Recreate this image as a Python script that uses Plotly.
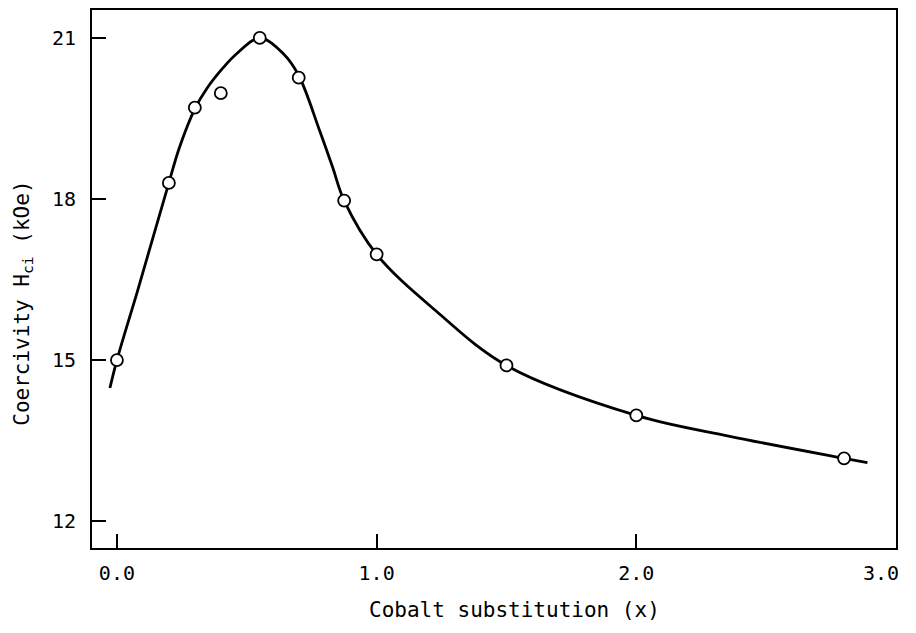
import plotly.graph_objects as go

# Measured data points (open circles)
x_points = [0.0, 0.2, 0.3, 0.4, 0.55, 0.7, 0.875, 1.0, 1.5, 2.0, 2.8]
y_points = [15.0, 18.3, 19.7, 19.97, 21.0, 20.26, 17.97, 16.97, 14.9, 13.97, 13.17]

# Smooth fitted curve
x_curve = [-0.027, 0.0, 0.08, 0.146, 0.2, 0.24, 0.3, 0.345, 0.41, 0.46, 0.55,
           0.64, 0.70, 0.78, 0.83, 0.875, 1.0, 1.23, 1.5, 2.0,
           2.36, 2.8, 2.89]
y_curve = [14.48, 15.0, 16.3, 17.4, 18.3, 18.95, 19.68, 20.05, 20.45, 20.7, 21.0,
           20.71, 20.3, 19.28, 18.6, 17.97, 16.97, 15.91, 14.9, 13.97,
           13.58, 13.17, 13.09]

x_ticks = [0.0, 1.0, 2.0, 3.0]
x_tick_labels = ["0.0", "1.0", "2.0", "3.0"]
y_ticks = [12, 15, 18, 21]
y_tick_labels = ["12", "15", "18", "21"]

x_title = "Cobalt substitution (x)"
y_title = "Coercivity H<sub>ci</sub> (kOe)"

FONT = "DejaVu Sans Mono"

fig = go.Figure()
fig.add_trace(go.Scatter(
    x=x_curve, y=y_curve, mode="lines",
    line=dict(color="black", width=2.8, shape="spline", smoothing=1.0),
    hoverinfo="skip", showlegend=False,
))
fig.add_trace(go.Scatter(
    x=x_points, y=y_points, mode="markers",
    marker=dict(symbol="circle", size=12, color="white",
                line=dict(color="black", width=1.8)),
    showlegend=False,
))

# the last tick label sits at the frame edge, drawn just left of its tick
edge_label = dict(text=x_tick_labels[-1], xref="x", yref="paper", x=x_ticks[-1], y=-0.0465,
                  xanchor="right", yanchor="middle", xshift=5, showarrow=False,
                  font=dict(family=FONT, size=20, color="black"))

# the page body has an 8px margin; the figure is sized so the plot area lands
# at window x 92..896, y 10..548
fig.update_layout(
    width=900, height=617,
    margin=dict(l=84, r=12, t=2, b=77, autoexpand=False),
    paper_bgcolor="white", plot_bgcolor="white",
    font=dict(family=FONT, color="black", size=20),
    annotations=[
        edge_label,
        dict(text=x_title, xref="paper", yref="paper", x=0.525, y=-0.1152,
             xanchor="center", yanchor="middle", showarrow=False, borderpad=0,
             font=dict(family=FONT, size=21, color="black")),
        dict(text=y_title, xref="paper", yref="paper", x=-0.0855, y=0.4545,
             xanchor="center", yanchor="middle", showarrow=False, textangle=-90,
             font=dict(family=FONT, size=21, color="black")),
    ],
)
fig.update_xaxes(
    range=[-0.096, 3.0], automargin=False,
    tickmode="array", tickvals=x_ticks[:-1], ticktext=x_tick_labels[:-1],
    ticks="inside", ticklen=14, tickwidth=2, tickcolor="black",
    showline=True, linecolor="black", linewidth=2, mirror=True,
    showgrid=False, zeroline=False,
    tickfont=dict(family=FONT, size=20),
    ticklabelstandoff=6,
)
fig.update_yaxes(
    range=[11.5, 21.52], automargin=False,
    tickmode="array", tickvals=y_ticks, ticktext=y_tick_labels,
    ticks="inside", ticklen=14, tickwidth=2, tickcolor="black",
    showline=True, linecolor="black", linewidth=2, mirror=True,
    showgrid=False, zeroline=False,
    tickfont=dict(family=FONT, size=20),
    ticklabelstandoff=10,
)

fig.write_html("out.html")
